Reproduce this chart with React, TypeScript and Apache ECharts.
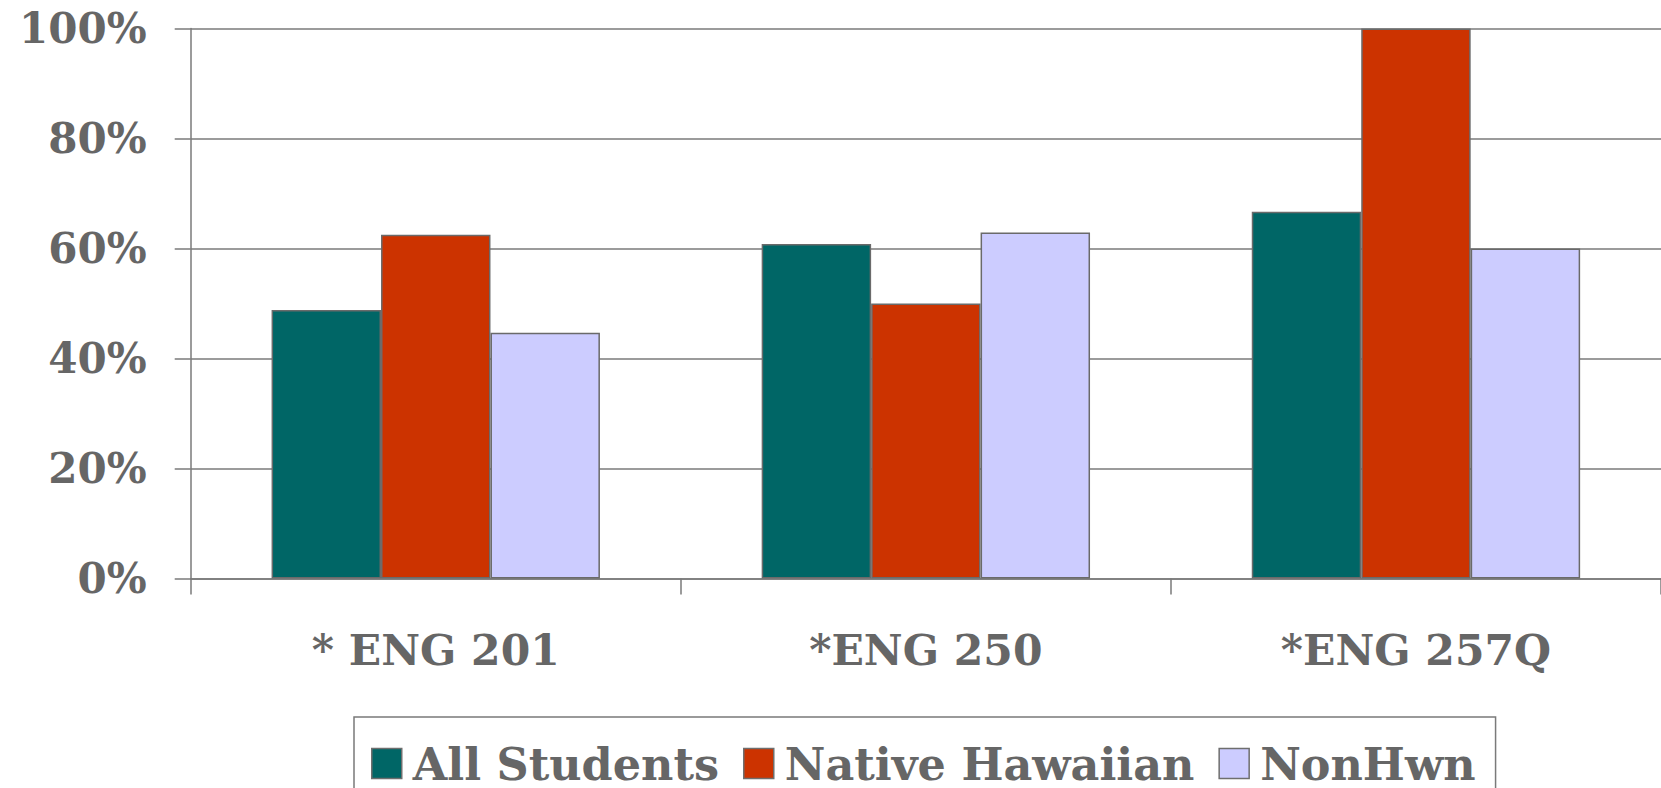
import React, { useEffect, useRef } from "react";
import * as echarts from "echarts";

const categories = ["* ENG 201", "*ENG 250", "*ENG 257Q"];
const allStudents = [48.8, 60.8, 66.7];
const nativeHawaiian = [62.5, 50, 100];
const nonHwn = [44.7, 62.9, 60];
const seriesNames = ["All Students", "Native Hawaiian", "NonHwn"];
const seriesColors = ["#006666", "#CC3300", "#CCCCFF"];

const FONT = "'DejaVu Serif', 'Liberation Serif', serif";
const TEXT = "#666666";
const LINE = "#7a7a7a";

export default function App() {
  const ref = useRef<HTMLDivElement>(null);
  useEffect(() => {
    if (!ref.current) return;
    const chart = echarts.init(ref.current, undefined, { renderer: "svg" });
    const data = [allStudents, nativeHawaiian, nonHwn];
    chart.setOption({
      animation: false,
      backgroundColor: "#ffffff",
      grid: { left: 190.7, right: -2, top: 28.6, bottom: 209.6, containLabel: false },
      legend: {
        left: 354,
        top: 717,
        orient: "horizontal",
        borderColor: LINE,
        borderWidth: 1.5,
        padding: [24, 20, 24, 17],
        itemWidth: 30,
        itemHeight: 30,
        itemGap: 24,
        icon: "rect",
        itemStyle: { borderColor: "#6e6e6e", borderWidth: 1.5 },
        textStyle: {
          fontFamily: FONT,
          fontWeight: "bold",
          fontSize: 44.5,
          color: TEXT,
          padding: [0, 0, 0, 6],
        },
        data: seriesNames,
      },
      xAxis: {
        type: "category",
        data: categories,
        axisLine: { show: true, lineStyle: { color: LINE, width: 1.5 } },
        axisTick: { show: true, length: 16, lineStyle: { color: LINE, width: 1.5 } },
        axisLabel: {
          margin: 50,
          fontFamily: FONT,
          fontWeight: "bold",
          fontSize: 42.5,
          color: TEXT,
        },
      },
      yAxis: {
        type: "value",
        min: 0,
        max: 100,
        interval: 20,
        axisLine: { show: true, lineStyle: { color: LINE, width: 1.5 } },
        axisTick: { show: true, length: 16, lineStyle: { color: LINE, width: 1.5 } },
        splitLine: { show: true, lineStyle: { color: LINE, width: 1.5 } },
        axisLabel: {
          margin: 44,
          formatter: "{value}%",
          fontFamily: FONT,
          fontWeight: "bold",
          fontSize: 42,
          color: TEXT,
        },
      },
      series: seriesNames.map((name, i) => ({
        name,
        type: "bar",
        data: data[i],
        barGap: "0%",
        barCategoryGap: "33%",
        itemStyle: { color: seriesColors[i], borderColor: "#6a6a6a", borderWidth: 1.5 },
      })),
    });
    return () => chart.dispose();
  }, []);
  return (
    <div
      ref={ref}
      style={{ position: "fixed", left: 0, top: 0, width: 1661, height: 788 }}
    />
  );
}
